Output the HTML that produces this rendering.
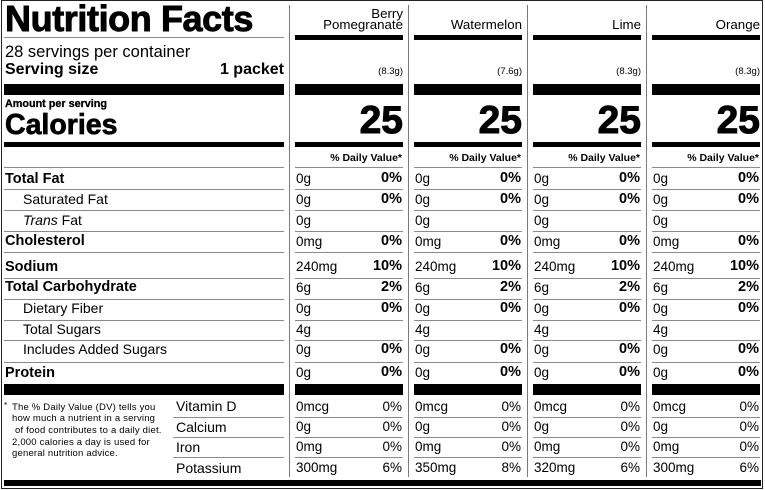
<!DOCTYPE html>
<html><head><meta charset="utf-8">
<style>
*{margin:0;padding:0;box-sizing:border-box}
html,body{width:765px;height:490px;background:#fff;overflow:hidden}
body{position:relative;font-family:"Liberation Sans",Arial,sans-serif;color:#000}
.a{position:absolute;line-height:1;white-space:nowrap}
.b{font-weight:bold}
.bar{position:absolute;background:#000}
.hl{position:absolute;height:1px;background:#8a8a8a}
.vl{position:absolute;width:1px;background:#7a7a7a;top:5px;height:472px}
.col{position:absolute;top:0;width:108px;height:490px}
.col .bar,.col .hl{left:0;width:108px}
.nm{font-size:13.3px;right:0}
.wt{font-size:9.5px;right:0;top:67px}
.cal{font-size:39px;font-weight:bold;right:0;top:100.5px;-webkit-text-stroke:1px #000}
.dv{font-size:10.5px;font-weight:bold;right:1px;top:152.6px}
.v{font-size:13.5px;left:1px}
.p{font-size:14.5px;font-weight:bold;right:1px}
.q{font-size:13.5px;right:1px}
.lb{font-size:14px;left:23px}
.lbb{font-size:14.5px;font-weight:bold;left:5px}
.fn{font-size:9.5px;letter-spacing:0.2px;left:12px}
.vt{font-size:14px;left:176px}
</style></head><body>

<div style="position:absolute;left:1px;top:0;width:762px;height:489px;border:1px solid #222"></div>

<div class="vl" style="left:289px"></div>
<div class="vl" style="left:408px"></div>
<div class="vl" style="left:527px"></div>
<div class="vl" style="left:646px"></div>

<div class="a b" style="left:5px;top:1.2px;font-size:36px;letter-spacing:-0.4px;-webkit-text-stroke:0.9px #000">Nutrition Facts</div>
<div class="hl" style="left:4px;width:280px;top:37px"></div>
<div class="a" style="left:5px;top:44px;font-size:16.5px">28 servings per container</div>
<div class="a b" style="left:5px;top:61.5px;font-size:16px">Serving size</div>
<div class="a b" style="right:481px;top:61.5px;font-size:16px">1 packet</div>
<div class="bar" style="left:4px;width:280px;top:84px;height:11px"></div>
<div class="a b" style="left:5px;top:98.9px;font-size:10.8px;-webkit-text-stroke:0.3px #000">Amount per serving</div>
<div class="a b" style="left:5px;top:110.9px;font-size:28.5px;-webkit-text-stroke:0.7px #000">Calories</div>
<div class="bar" style="left:4px;width:280px;top:142px;height:5px"></div>
<div class="hl" style="left:4px;width:280px;top:167px"></div>

<div class="a lbb" style="top:172px">Total Fat</div>
<div class="hl" style="left:4px;width:280px;top:189px"></div>
<div class="a lb" style="top:192.1px">Saturated Fat</div>
<div class="hl" style="left:4px;width:280px;top:210px"></div>
<div class="a lb" style="top:213.1px"><i>Trans</i> Fat</div>
<div class="hl" style="left:4px;width:280px;top:231px"></div>
<div class="a lbb" style="top:233.7px">Cholesterol</div>
<div class="hl" style="left:4px;width:280px;top:252px"></div>
<div class="a lbb" style="top:260px">Sodium</div>
<div class="hl" style="left:4px;width:280px;top:278px"></div>
<div class="a lbb" style="top:280px">Total Carbohydrate</div>
<div class="hl" style="left:4px;width:280px;top:299px"></div>
<div class="a lb" style="top:301.4px">Dietary Fiber</div>
<div class="hl" style="left:4px;width:280px;top:320px"></div>
<div class="a lb" style="top:322.4px">Total Sugars</div>
<div class="hl" style="left:4px;width:280px;top:340px"></div>
<div class="a lb" style="top:342.1px">Includes Added Sugars</div>
<div class="hl" style="left:4px;width:280px;top:362px"></div>
<div class="a lbb" style="top:366px">Protein</div>
<div class="bar" style="left:4px;width:280px;top:384px;height:11px"></div>

<div class="a" style="left:4px;top:402px;font-size:8px">*</div>
<div class="a fn" style="top:402.7px">The % Daily Value (DV) tells you</div>
<div class="a fn" style="top:413.7px">how much a nutrient in a serving</div>
<div class="a fn" style="top:426px;left:15px">of food contributes to a daily diet.</div>
<div class="a fn" style="top:437.7px">2,000 calories a day is used for</div>
<div class="a fn" style="top:448.7px">general nutrition advice.</div>

<div class="a vt" style="top:398.9px">Vitamin D</div>
<div class="hl" style="left:173px;width:111px;top:417px"></div>
<div class="a vt" style="top:419.9px">Calcium</div>
<div class="hl" style="left:173px;width:111px;top:437px"></div>
<div class="a vt" style="top:439.9px">Iron</div>
<div class="hl" style="left:173px;width:111px;top:457px"></div>
<div class="a vt" style="top:460.5px">Potassium</div>

<div class="bar" style="left:4px;width:757px;top:480px;height:6px"></div>

<div class="col" style="left:295px">
<div class="a nm" style="top:7px">Berry</div>
<div class="a nm" style="top:18px">Pomegranate</div>
<div class="bar" style="top:35px;height:5px"></div>
<div class="a wt">(8.3g)</div>
<div class="bar" style="top:84px;height:11px"></div>
<div class="a cal">25</div>
<div class="bar" style="top:142px;height:5px"></div>
<div class="a dv">% Daily Value*</div>
<div class="hl" style="top:167px"></div>
<div class="a v" style="top:172.1px">0g</div><div class="a p" style="top:171.2px">0%</div>
<div class="hl" style="top:189px"></div>
<div class="a v" style="top:192.6px">0g</div><div class="a p" style="top:191.7px">0%</div>
<div class="hl" style="top:210px"></div>
<div class="a v" style="top:213.6px">0g</div>
<div class="hl" style="top:231px"></div>
<div class="a v" style="top:235.1px">0mg</div><div class="a p" style="top:234.2px">0%</div>
<div class="hl" style="top:252px"></div>
<div class="a v" style="top:260.1px">240mg</div><div class="a p" style="top:259.2px">10%</div>
<div class="hl" style="top:278px"></div>
<div class="a v" style="top:280.9px">6g</div><div class="a p" style="top:280px">2%</div>
<div class="hl" style="top:299px"></div>
<div class="a v" style="top:301.9px">0g</div><div class="a p" style="top:301px">0%</div>
<div class="hl" style="top:320px"></div>
<div class="a v" style="top:323.3px">4g</div>
<div class="hl" style="top:340px"></div>
<div class="a v" style="top:343.1px">0g</div><div class="a p" style="top:342.2px">0%</div>
<div class="hl" style="top:362px"></div>
<div class="a v" style="top:365.6px">0g</div><div class="a p" style="top:365.2px">0%</div>
<div class="bar" style="top:384px;height:11px"></div>
<div class="a v" style="top:400.1px">0mcg</div><div class="a q" style="top:400.1px">0%</div>
<div class="hl" style="top:417px"></div>
<div class="a v" style="top:420.3px">0g</div><div class="a q" style="top:420.3px">0%</div>
<div class="hl" style="top:437px"></div>
<div class="a v" style="top:440.3px">0mg</div><div class="a q" style="top:440.3px">0%</div>
<div class="hl" style="top:457px"></div>
<div class="a v" style="top:460.6px">300mg</div><div class="a q" style="top:460.6px">6%</div>
</div>

<div class="col" style="left:414px">
<div class="a nm" style="top:18px">Watermelon</div>
<div class="bar" style="top:35px;height:5px"></div>
<div class="a wt">(7.6g)</div>
<div class="bar" style="top:84px;height:11px"></div>
<div class="a cal">25</div>
<div class="bar" style="top:142px;height:5px"></div>
<div class="a dv">% Daily Value*</div>
<div class="hl" style="top:167px"></div>
<div class="a v" style="top:172.1px">0g</div><div class="a p" style="top:171.2px">0%</div>
<div class="hl" style="top:189px"></div>
<div class="a v" style="top:192.6px">0g</div><div class="a p" style="top:191.7px">0%</div>
<div class="hl" style="top:210px"></div>
<div class="a v" style="top:213.6px">0g</div>
<div class="hl" style="top:231px"></div>
<div class="a v" style="top:235.1px">0mg</div><div class="a p" style="top:234.2px">0%</div>
<div class="hl" style="top:252px"></div>
<div class="a v" style="top:260.1px">240mg</div><div class="a p" style="top:259.2px">10%</div>
<div class="hl" style="top:278px"></div>
<div class="a v" style="top:280.9px">6g</div><div class="a p" style="top:280px">2%</div>
<div class="hl" style="top:299px"></div>
<div class="a v" style="top:301.9px">0g</div><div class="a p" style="top:301px">0%</div>
<div class="hl" style="top:320px"></div>
<div class="a v" style="top:323.3px">4g</div>
<div class="hl" style="top:340px"></div>
<div class="a v" style="top:343.1px">0g</div><div class="a p" style="top:342.2px">0%</div>
<div class="hl" style="top:362px"></div>
<div class="a v" style="top:365.6px">0g</div><div class="a p" style="top:365.2px">0%</div>
<div class="bar" style="top:384px;height:11px"></div>
<div class="a v" style="top:400.1px">0mcg</div><div class="a q" style="top:400.1px">0%</div>
<div class="hl" style="top:417px"></div>
<div class="a v" style="top:420.3px">0g</div><div class="a q" style="top:420.3px">0%</div>
<div class="hl" style="top:437px"></div>
<div class="a v" style="top:440.3px">0mg</div><div class="a q" style="top:440.3px">0%</div>
<div class="hl" style="top:457px"></div>
<div class="a v" style="top:460.6px">350mg</div><div class="a q" style="top:460.6px">8%</div>
</div>

<div class="col" style="left:533px">
<div class="a nm" style="top:18px">Lime</div>
<div class="bar" style="top:35px;height:5px"></div>
<div class="a wt">(8.3g)</div>
<div class="bar" style="top:84px;height:11px"></div>
<div class="a cal">25</div>
<div class="bar" style="top:142px;height:5px"></div>
<div class="a dv">% Daily Value*</div>
<div class="hl" style="top:167px"></div>
<div class="a v" style="top:172.1px">0g</div><div class="a p" style="top:171.2px">0%</div>
<div class="hl" style="top:189px"></div>
<div class="a v" style="top:192.6px">0g</div><div class="a p" style="top:191.7px">0%</div>
<div class="hl" style="top:210px"></div>
<div class="a v" style="top:213.6px">0g</div>
<div class="hl" style="top:231px"></div>
<div class="a v" style="top:235.1px">0mg</div><div class="a p" style="top:234.2px">0%</div>
<div class="hl" style="top:252px"></div>
<div class="a v" style="top:260.1px">240mg</div><div class="a p" style="top:259.2px">10%</div>
<div class="hl" style="top:278px"></div>
<div class="a v" style="top:280.9px">6g</div><div class="a p" style="top:280px">2%</div>
<div class="hl" style="top:299px"></div>
<div class="a v" style="top:301.9px">0g</div><div class="a p" style="top:301px">0%</div>
<div class="hl" style="top:320px"></div>
<div class="a v" style="top:323.3px">4g</div>
<div class="hl" style="top:340px"></div>
<div class="a v" style="top:343.1px">0g</div><div class="a p" style="top:342.2px">0%</div>
<div class="hl" style="top:362px"></div>
<div class="a v" style="top:365.6px">0g</div><div class="a p" style="top:365.2px">0%</div>
<div class="bar" style="top:384px;height:11px"></div>
<div class="a v" style="top:400.1px">0mcg</div><div class="a q" style="top:400.1px">0%</div>
<div class="hl" style="top:417px"></div>
<div class="a v" style="top:420.3px">0g</div><div class="a q" style="top:420.3px">0%</div>
<div class="hl" style="top:437px"></div>
<div class="a v" style="top:440.3px">0mg</div><div class="a q" style="top:440.3px">0%</div>
<div class="hl" style="top:457px"></div>
<div class="a v" style="top:460.6px">320mg</div><div class="a q" style="top:460.6px">6%</div>
</div>

<div class="col" style="left:652px">
<div class="a nm" style="top:18px">Orange</div>
<div class="bar" style="top:35px;height:5px"></div>
<div class="a wt">(8.3g)</div>
<div class="bar" style="top:84px;height:11px"></div>
<div class="a cal">25</div>
<div class="bar" style="top:142px;height:5px"></div>
<div class="a dv">% Daily Value*</div>
<div class="hl" style="top:167px"></div>
<div class="a v" style="top:172.1px">0g</div><div class="a p" style="top:171.2px">0%</div>
<div class="hl" style="top:189px"></div>
<div class="a v" style="top:192.6px">0g</div><div class="a p" style="top:191.7px">0%</div>
<div class="hl" style="top:210px"></div>
<div class="a v" style="top:213.6px">0g</div>
<div class="hl" style="top:231px"></div>
<div class="a v" style="top:235.1px">0mg</div><div class="a p" style="top:234.2px">0%</div>
<div class="hl" style="top:252px"></div>
<div class="a v" style="top:260.1px">240mg</div><div class="a p" style="top:259.2px">10%</div>
<div class="hl" style="top:278px"></div>
<div class="a v" style="top:280.9px">6g</div><div class="a p" style="top:280px">2%</div>
<div class="hl" style="top:299px"></div>
<div class="a v" style="top:301.9px">0g</div><div class="a p" style="top:301px">0%</div>
<div class="hl" style="top:320px"></div>
<div class="a v" style="top:323.3px">4g</div>
<div class="hl" style="top:340px"></div>
<div class="a v" style="top:343.1px">0g</div><div class="a p" style="top:342.2px">0%</div>
<div class="hl" style="top:362px"></div>
<div class="a v" style="top:365.6px">0g</div><div class="a p" style="top:365.2px">0%</div>
<div class="bar" style="top:384px;height:11px"></div>
<div class="a v" style="top:400.1px">0mcg</div><div class="a q" style="top:400.1px">0%</div>
<div class="hl" style="top:417px"></div>
<div class="a v" style="top:420.3px">0g</div><div class="a q" style="top:420.3px">0%</div>
<div class="hl" style="top:437px"></div>
<div class="a v" style="top:440.3px">0mg</div><div class="a q" style="top:440.3px">0%</div>
<div class="hl" style="top:457px"></div>
<div class="a v" style="top:460.6px">300mg</div><div class="a q" style="top:460.6px">6%</div>
</div>

</body></html>
